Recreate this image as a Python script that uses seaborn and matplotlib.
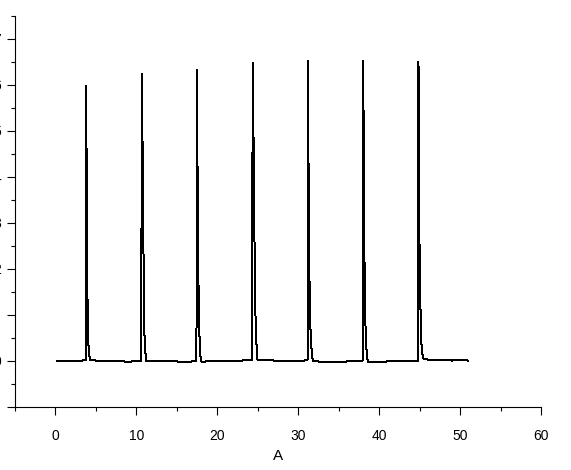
import matplotlib
matplotlib.use("Agg")
import matplotlib.pyplot as plt
import seaborn as sns
import pandas as pd

# ---- data ----
x_values = [
    0.2, 1.0, 1.5, 2.5, 3.3, 3.7,
    3.77, 3.8, 3.86, 3.96, 4.1, 4.3,
    5.0, 6.5, 7.5, 9.0, 10.0, 10.6,
    10.67, 10.72, 10.8, 10.95, 11.05, 11.25,
    13.0, 15.0, 16.5, 17.42,
    17.5, 17.57, 17.7, 17.85, 18.05,
    19.0, 21.0, 23.0, 24.3,
    24.37, 24.42, 24.5, 24.62, 24.75, 24.95,
    27.0, 29.0, 30.5, 31.15,
    31.22, 31.29, 31.4, 31.55, 31.8,
    33.0, 35.0, 37.0, 37.95,
    38.02, 38.08, 38.2, 38.35, 38.6,
    39.5, 41.0, 43.0, 44.8,
    44.86, 44.93, 45.05, 45.2, 45.4,
    46.0, 47.5, 49.0, 50.0, 51.0,
]
y_values = [
    0.0, 0.0, 0.01, 0.01, 0.01, 0.02,
    0.03, 5.98, 3.70, 1.33, 0.20, 0.02,
    0.01, 0.0, 0.01, -0.02, 0.0, 0.01,
    6.24, 5.41, 3.98, 0.85, 0.28, -0.01,
    -0.01, -0.01, -0.02, 0.01,
    6.33, 3.54, 1.22, 0.18, -0.02,
    0.0, 0.0, 0.01, 0.03,
    6.49, 5.38, 4.59, 2.09, 0.64, 0.03,
    0.01, 0.0, 0.0, 0.03,
    6.52, 3.39, 1.62, 0.42, 0.0,
    -0.02, -0.02, 0.0, 0.01,
    6.52, 5.13, 1.87, 0.40, -0.03,
    -0.03, -0.01, 0.0, 0.01,
    6.51, 3.35, 1.59, 0.42, 0.06,
    0.03, 0.03, 0.01, 0.02, 0.01,
]
x_ticks = [0, 10, 20, 30, 40, 50, 60]
x_minor_ticks = [-5, 5, 15, 25, 35, 45, 55]
y_ticks = [-1, 0, 1, 2, 3, 4, 5, 6, 7]
y_tick_labels = ["", "0", "", "2", "3", "4", "5", "6", "7"]
y_minor_ticks = [-0.5, 0.5, 1.5, 2.5, 3.5, 4.5, 5.5, 6.5, 7.5]
x_label = "A"

df = pd.DataFrame({"x": x_values, "y": y_values})

sns.set_theme(style="ticks")
plt.rcParams["font.family"] = ["Liberation Sans", "DejaVu Sans"]

fig = plt.figure(figsize=(5.71, 4.70), dpi=100)
fig.patch.set_facecolor("white")
ax = fig.add_axes([15 / 571, 1 - 407 / 470, (541 - 15) / 571, (407 - 16) / 470])
ax.set_facecolor("white")

sns.lineplot(data=df, x="x", y="y", ax=ax, color="black", linewidth=0.72,
             estimator=None, sort=False, antialiased=False)

ax.set_xlim(-5, 60)
ax.set_ylim(-1, 7.5)
ax.set_xticks(x_ticks)
ax.set_xticks(x_minor_ticks, minor=True)
ax.set_yticks(y_ticks)
ax.set_yticklabels(y_tick_labels)
ax.set_yticks(y_minor_ticks, minor=True)

for s in ["top", "right"]:
    ax.spines[s].set_visible(False)
for s in ["left", "bottom"]:
    ax.spines[s].set_color("black")
    ax.spines[s].set_linewidth(0.8)

ax.tick_params(axis="both", which="major", direction="out", length=6,
               width=0.8, color="black", labelcolor="black", labelsize=10)
ax.tick_params(axis="both", which="minor", direction="out", length=3,
               width=0.8, color="black")
ax.tick_params(axis="x", which="major", pad=10)
ax.tick_params(axis="y", which="major", pad=4)

ax.set_xlabel(x_label, fontsize=11, color="black", labelpad=4)
ax.set_ylabel("")
ax.grid(False)

fig.savefig("out.png", dpi=100, facecolor="white")
